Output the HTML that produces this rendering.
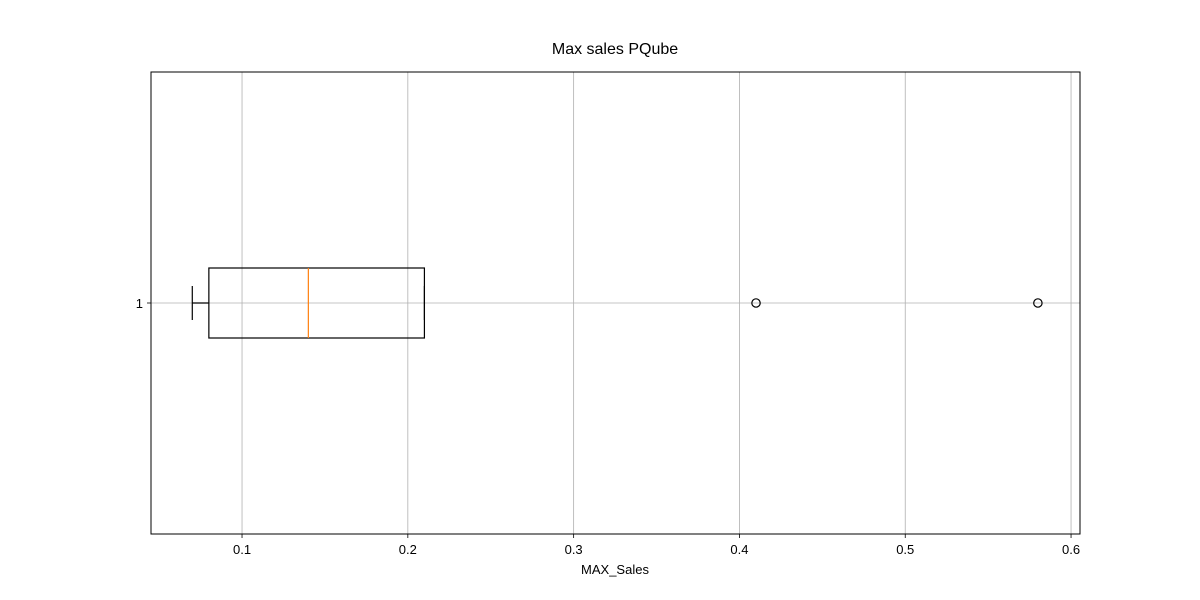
<!DOCTYPE html>
<html><head><meta charset="utf-8"><style>
html,body{margin:0;padding:0;background:#fff;}
svg{display:block;font-family:"Liberation Sans","DejaVu Sans",sans-serif;}
</style></head><body>
<svg id="chart" width="1200" height="600" viewBox="0 0 1200 600">
<text x="615" y="54" text-anchor="middle" font-size="16" fill="#000">Max sales PQube</text>
<g id="grid"></g>
<g id="marks"></g>
<rect x="151" y="72" width="929" height="462" fill="none" stroke="#000" stroke-width="1"/>
<g id="ticks"></g>
<text x="615" y="574" text-anchor="middle" font-size="13" fill="#000">MAX_Sales</text>
</svg>
<script>
const xTicks = [0.1, 0.2, 0.3, 0.4, 0.5, 0.6];
const xTickLabels = ["0.1", "0.2", "0.3", "0.4", "0.5", "0.6"];
const boxStats = [0.07, 0.08, 0.14, 0.21, 0.21]; // whislo, q1, median, q3, whishi
const outliers = [0.41, 0.58];
const categories = ["1"];

const X0 = 151, X1 = 1080, Y0 = 72, Y1 = 534;
const xMin = 0.0451, xMax = 0.6054;
function xs(v){ return X0 + (v - xMin) / (xMax - xMin) * (X1 - X0); }
const yc = 303;
const NS = "http://www.w3.org/2000/svg";
function mk(tag, attrs, parent){
  const e = document.createElementNS(NS, tag);
  for (const k in attrs) e.setAttribute(k, attrs[k]);
  parent.appendChild(e);
  return e;
}
const grid = document.getElementById('grid');
const ticks = document.getElementById('ticks');
const marks = document.getElementById('marks');

xTicks.forEach((v, i) => {
  const x = xs(v);
  const g = mk('line', {x1:x, x2:x, y1:Y0, y2:Y1, stroke:'#b0b0b0', 'stroke-width':0.8}, grid);
  
  
  const t = mk('line', {x1:x, x2:x, y1:Y1, y2:Y1+4, stroke:'#000', 'stroke-width':0.8}, ticks);
  
  
  const l = mk('text', {x:x, y:Y1+20, 'text-anchor':'middle', 'font-size':13, fill:'#000'}, ticks);
  l.textContent = xTickLabels[i];
  
  
});
categories.forEach(c => {
  const g = mk('line', {x1:X0, x2:X1, y1:yc, y2:yc, stroke:'#b0b0b0', 'stroke-width':0.8}, grid);
  
  
  const t = mk('line', {x1:X0-4, x2:X0, y1:yc, y2:yc, stroke:'#000', 'stroke-width':0.8}, ticks);
  
  
  const l = mk('text', {x:X0-8, y:yc+5, 'text-anchor':'end', 'font-size':13, fill:'#000'}, ticks);
  l.textContent = c;
  
  
});

const [lo, q1, med, q3, hi] = boxStats;
const bh = 35, ch = 17;
const wl = mk('line', {x1:xs(lo), x2:xs(q1), y1:yc, y2:yc, stroke:'#000', 'stroke-width':1.2}, marks);


const wh = mk('line', {x1:xs(q3), x2:xs(hi), y1:yc, y2:yc, stroke:'#000', 'stroke-width':1.2}, marks);


const cl = mk('line', {x1:xs(lo), x2:xs(lo), y1:yc-ch, y2:yc+ch, stroke:'#000', 'stroke-width':1.2}, marks);


const chh = mk('line', {x1:xs(hi), x2:xs(hi), y1:yc-ch, y2:yc+ch, stroke:'#000', 'stroke-width':1.2}, marks);


const box = mk('rect', {x:xs(q1), y:yc-bh, width:xs(q3)-xs(q1), height:2*bh, fill:'none', stroke:'#000', 'stroke-width':1.2}, marks);


const md = mk('line', {x1:xs(med), x2:xs(med), y1:yc-bh, y2:yc+bh, stroke:'#ff7f0e', 'stroke-width':1.2}, marks);


outliers.forEach(v => {
  const o = mk('circle', {cx:xs(v), cy:yc, r:4.2, fill:'none', stroke:'#000', 'stroke-width':1.2}, marks);
  
  
});
</script>
</body></html>
